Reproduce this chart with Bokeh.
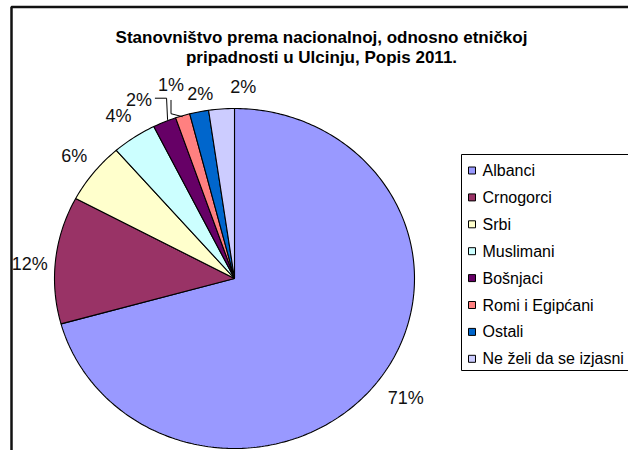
import numpy as np
from bokeh.plotting import figure
from bokeh.models import Range1d
from bokeh.core.properties import value
from bokeh.embed import file_html
from bokeh.resources import INLINE

# ---- data ----
categories = ["Albanci", "Crnogorci", "Srbi", "Muslimani", "Bošnjaci",
              "Romi i Egipćani", "Ostali", "Ne želi da se izjasni"]
shares = [70.7, 12.1, 5.8, 4.0, 2.1, 1.3, 1.7, 2.3]
colors = ["#9999FF", "#993366", "#FFFFCC", "#CCFFFF", "#660066",
          "#FF8080", "#0066CC", "#CCCCFF"]
title_lines = ["Stanovništvo prema nacionalnoj, odnosno etničkoj",
               "pripadnosti u Ulcinju, Popis 2011."]

# ---- layout / style ----
FONT = "Liberation Sans"
W, H = 628, 450
CX, CY, RX, RY = 234, 278, 180, 170
LABEL_PAD = 30
label_shift = [(4, -2), (4, 7), (4, 2), (1, 4), (-14, 6), (-3, -2), (7, 12), (24, 8)]
leader_slices = [4, 5]

p = figure(width=W, height=H, x_range=Range1d(0, W), y_range=Range1d(H, 0),
           output_backend="svg", toolbar_location=None, min_border=0,
           x_axis_type=None, y_axis_type=None)
p.outline_line_color = None
p.background_fill_color = "white"
p.border_fill_color = "white"

# chart border (left + top)
p.line(x=[11, 11, 640], y=[460, 6.5, 6.5], line_color="#111111", line_width=2.5)

# ---- pie slices ----
vals = np.array(shares, dtype=float)
frac = vals / vals.sum()
ends = np.cumsum(frac) * 2 * np.pi
starts = ends - frac * 2 * np.pi
xs, ys = [], []
for a0, a1 in zip(starts, ends):
    n = max(4, int((a1 - a0) / (2 * np.pi) * 400))
    t = np.linspace(a0, a1, n)
    xs.append([CX] + list(CX + RX * np.sin(t)) + [CX])
    ys.append([CY] + list(CY - RY * np.cos(t)) + [CY])
p.patches(xs=xs, ys=ys, fill_color=colors, line_color="black", line_width=1.1)

# ---- percentage labels ----
mids = (starts + ends) / 2
lx, ly, txt = [], [], []
for i, m in enumerate(mids):
    bx = CX + (RX + LABEL_PAD) * np.sin(m)
    by = CY - (RY + LABEL_PAD) * np.cos(m)
    lx.append(bx + label_shift[i][0])
    ly.append(by + label_shift[i][1])
    txt.append(f"{round(shares[i])}%")
p.text(x=lx, y=ly, text=txt, text_font=value(FONT), text_font_size="18px",
       text_align="center", text_baseline="middle", text_color="#111111")

# leader lines for small slices
i = leader_slices[0]
ex, ey = CX + RX * np.sin(mids[i]), CY - RY * np.cos(mids[i])
p.line(x=[lx[i] + 16, ex + 2, ex + 3], y=[ly[i] - 2, ly[i] - 2, ey - 2],
       line_color="black", line_width=1)
i = leader_slices[1]
ex, ey = CX + RX * np.sin(mids[i]), CY - RY * np.cos(mids[i])
p.line(x=[lx[i], lx[i], ex], y=[ly[i] + 15, ey - 2, ey + 1],
       line_color="black", line_width=1)

# ---- title ----
p.text(x=[321, 321], y=[37, 57], text=title_lines, text_font=value(FONT),
       text_font_size="17px", text_font_style="bold", text_align="center",
       text_baseline="alphabetic", text_color="black")

# ---- legend ----
LEG_L, LEG_T, LEG_B = 461, 154, 370
ROW0, ROW_H = 170, 26.9
p.line(x=[640, LEG_L, LEG_L, 640], y=[LEG_T, LEG_T, LEG_B, LEG_B],
       line_color="black", line_width=1)
rows = [ROW0 + k * ROW_H for k in range(len(categories))]
p.rect(x=[471.5] * len(categories), y=rows, width=7, height=7,
       fill_color=colors, line_color="black", line_width=1)
p.text(x=[482] * len(categories), y=rows, text=categories, text_font=value(FONT),
       text_font_size="16px", text_align="left", text_baseline="middle",
       text_color="black")

open("out.html", "w").write(file_html(p, INLINE))
